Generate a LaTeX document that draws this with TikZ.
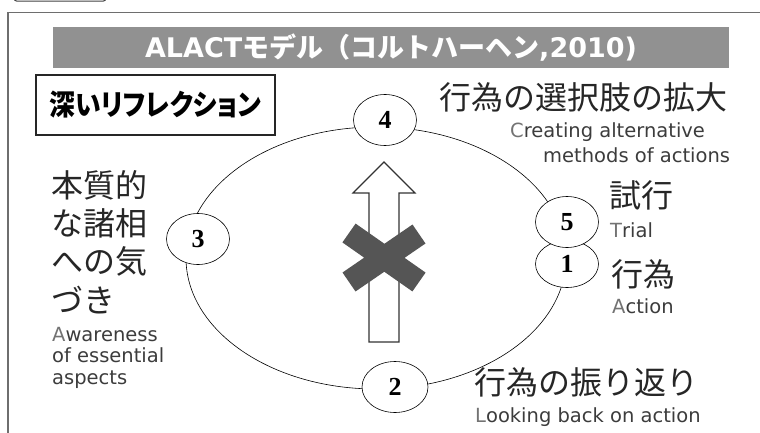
\documentclass[tikz,border=0pt]{standalone}
\usepackage{fontspec}
\setmainfont{DejaVu Sans}
\newfontfamily\jpfont{Noto Sans CJK JP}
\newfontfamily\jppalt[RawFeature=+palt, FakeStretch=0.89]{Noto Sans CJK JP}
\newfontfamily\numfont{Liberation Serif}
\usepackage{tikz}
\usetikzlibrary{shapes.geometric, positioning}
\definecolor{bannergray}{RGB}{145,145,145}
\definecolor{framegray}{RGB}{110,110,110}
\definecolor{crossgray}{RGB}{85,85,85}
\definecolor{jptext}{RGB}{38,38,38}
\definecolor{entext}{RGB}{60,60,60}
\definecolor{initgray}{RGB}{115,115,115}
\newcommand{\firstch}[1]{\textcolor{initgray}{#1}}

\begin{document}
\begin{tikzpicture}[
    x=1pt, y=-1pt,
    stage/.style={draw, ellipse, fill=white, line width=0.6pt, inner sep=0pt, minimum width=63pt, minimum height=51pt, font=\numfont\bfseries\fontsize{26}{26}\selectfont},
    jplabel/.style={anchor=base west, inner sep=0pt, align=left, text=jptext, font=\jpfont\fontsize{32}{38.3}\selectfont},
    enlabel/.style={anchor=base west, inner sep=0pt, align=left, text=entext, font=\fontsize{19.5}{21.5}\selectfont}
]
    \useasboundingbox (0,0) rectangle (760,433);

    % frame and the cut-off box above it
    \draw[framegray, line width=1.3pt] (8,440) -- (8,12.5) -- (770,12.5);
    \draw[black!75, line width=1pt, rounded corners=3pt] (14,-30) rectangle (106,1.2);

    \node[fill=bannergray, minimum width=676pt, minimum height=41pt, inner sep=0pt, text=white,
          font=\bfseries\fontsize{27}{27}\selectfont] (title) at (391,47.5) {ALACT{\jpfont モデル（コルトハーヘン},2010)};
    \node[draw=black!85, line width=1.5pt, minimum width=239pt, minimum height=60pt, inner sep=0pt,
          font=\jppalt\bfseries\fontsize{29}{29}\selectfont] (deep) at (155.5,105) {深いリフレクション};

    % the cycle
    \draw[line width=0.6pt] (376,258) ellipse [x radius=190, y radius=131];

    % blocked arrow
    \draw[fill=white, draw=black!80, line width=1.1pt] (369,342) -- (369,193) -- (353,193) -- (384,162)
        -- (415,193) -- (399,193) -- (399,342) -- cycle;
    \draw[crossgray, line width=23pt] (349,233) -- (419,282) (419,234) -- (349,282);

    \node[stage] (s4) at (385,120) {4};
    \node[stage] (s3) at (198,239) {3};
    \node[stage, minimum height=47pt] (s1) at (567,264) {1};
    \node[stage] (s5) at (567,222) {5};
    \node[stage, minimum width=66pt] (s2) at (395,387) {2};

    \node[jplabel] (act4jp) at (439,110) {行為の選択肢の拡大};
    \node[enlabel] (act4en) at (510,138) {\firstch{C}reating alternative};
    \node[enlabel] (act4en2) at (543,162) {methods of actions};
    \node[jplabel] (act3jp) at (51,312) {本質的\\な諸相\\への気\\づき};
    \node[enlabel] (act3en) at (52,384) {\firstch{A}wareness\\of essential\\aspects};
    \node[jplabel] (act5jp) at (609,207) {試行};
    \node[enlabel] (act5en) at (610,237) {\firstch{T}rial};
    \node[jplabel] (act1jp) at (611,286.5) {行為};
    \node[enlabel] (act1en) at (612,313) {\firstch{A}ction};
    \node[jplabel] (act2jp) at (474,394.5) {行為の振り返り};
    \node[enlabel] (act2en) at (475,422) {\firstch{L}ooking back on action};
\end{tikzpicture}
\end{document}
